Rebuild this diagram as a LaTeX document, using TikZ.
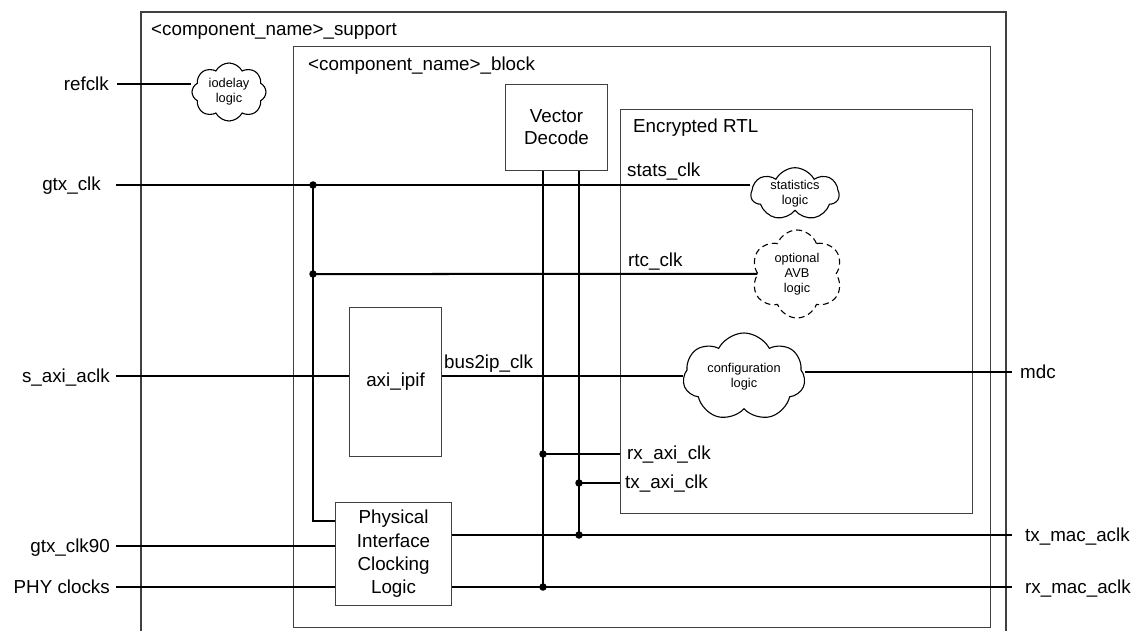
\documentclass[tikz,border=0pt]{standalone}
\usepackage{fontspec}
\setmainfont{Liberation Sans}
\usetikzlibrary{shapes.symbols}
\begin{document}
\begin{tikzpicture}[x=1pt,y=-1pt,
  box/.style={draw=black!75, line width=1.1pt, inner sep=0pt},
  wire/.style={draw=black, line width=2pt},
  lbl/.style={font=\fontsize{18.8}{23}\selectfont, inner sep=0pt},
  boxlbl/.style={font=\fontsize{18.8}{22}\selectfont, align=center},
  cloudnode/.style={cloud, draw, line width=1.1pt, cloud puffs=7, cloud puff arc=125, cloud ignores aspect, inner sep=0pt, align=center, font=\fontsize{12.8}{15}\selectfont},
  dot/.style={circle, fill=black, inner sep=0pt, minimum size=7.5pt}
]
\useasboundingbox (0,0) rectangle (1138,631);
\fill[white] (0,0) rectangle (1138,631);

% outer support region
\draw[box] (141,631) -- (141,12) -- (1006,12) -- (1006,631);
\node[lbl, anchor=base west] (suplbl) at (151,36) {<component\_name>\_support};

% boxes
\node[box, anchor=north west, minimum width=697pt, minimum height=581pt] (block) at (293,46) {};
\node[lbl, anchor=base west] (blocklbl) at (308,70.5) {<component\_name>\_block};
\node[box, boxlbl, anchor=north west, minimum width=102pt, minimum height=86pt] (vd) at (505,84) {Vector\\Decode};
\node[box, anchor=north west, minimum width=352pt, minimum height=404pt] (rtl) at (620,109) {};
\node[lbl, anchor=base west] (rtllbl) at (633,133) {Encrypted RTL};
\node[box, boxlbl, anchor=north west, minimum width=92pt, minimum height=149pt] (axi) at (349,307) {axi\_ipif};
\node[box, font=\fontsize{18.8}{23.3}\selectfont, align=center, anchor=north west, minimum width=116pt, minimum height=103pt] (picl) at (335,502) {Physical\\Interface\\Clocking\\Logic};

% clouds
\node[cloudnode, cloud puffs=8, minimum width=74pt, minimum height=58pt] (io) at (229,92) {iodelay\\logic};
\node[cloudnode, minimum width=88pt, minimum height=46pt] (stat) at (795,194) {statistics\\logic};
\node[cloudnode, cloud puffs=6, cloud puff arc=140, dash pattern=on 6pt off 4pt, minimum width=92pt, minimum height=88pt] (avb) at (797,274) {optional\\AVB\\logic};
\node[cloudnode, minimum width=122pt, minimum height=88pt] (cfg) at (744,377) {configuration\\logic};

% endpoints
\coordinate (refin) at (117,84);
\coordinate (gtxin) at (116,185);
\coordinate (saxiin) at (116,376);
\coordinate (gtx90in) at (116,546);
\coordinate (phyin) at (116,587);
\coordinate (mdcout) at (1012,372);
\coordinate (txout) at (1012,535);
\coordinate (rxout) at (1012,587);
\coordinate (gtxbend) at (313,521);

% junctions
\node[dot] (j1) at (313,185) {};
\node[dot] (j2) at (313,274) {};
\node[dot] (j3) at (543,454) {};
\node[dot] (j4) at (579,483) {};
\node[dot] (j5) at (579,535) {};
\node[dot] (j6) at (543,587) {};

% wires
\draw[wire] (refin) -- (io.west |- refin);
\draw[wire] (gtxin) -- (stat.west |- gtxin);
\draw[wire] (j1.center) -- (gtxbend) -- (picl.west |- gtxbend);
\draw[wire] (j2.center) -- (avb.west);
\draw[wire] (saxiin) -- (axi.west |- saxiin);
\draw[wire] (axi.east |- saxiin) -- (cfg.west |- saxiin);
\draw[wire] (cfg.east |- mdcout) -- (mdcout);
\draw[wire] (vd.south -| j6) -- (j6.center);
\draw[wire] (vd.south -| j5) -- (j5.center);
\draw[wire] (j3.center) -- (rtl.west |- j3);
\draw[wire] (j4.center) -- (rtl.west |- j4);
\draw[wire] (gtx90in) -- (picl.west |- gtx90in);
\draw[wire] (phyin) -- (picl.west |- phyin);
\draw[wire] (picl.east |- txout) -- (txout);
\draw[wire] (picl.east |- rxout) -- (rxout);

% labels
\node[lbl, anchor=base east] (refclk) at (109,91) {refclk};
\node[lbl, anchor=base east] (gtxclk) at (101,191) {gtx\_clk};
\node[lbl, anchor=base east] (saxi) at (110,382) {s\_axi\_aclk};
\node[lbl, anchor=base east] (gtx90) at (110,552) {gtx\_clk90};
\node[lbl, anchor=base east] (phy) at (110,593) {PHY clocks};
\node[lbl, anchor=base west] (mdc) at (1020,378) {mdc};
\node[lbl, anchor=base west] (txmac) at (1025,541) {tx\_mac\_aclk};
\node[lbl, anchor=base west] (rxmac) at (1025,593) {rx\_mac\_aclk};
\node[lbl, anchor=base west] (stats) at (627,177) {stats\_clk};
\node[lbl, anchor=base west] (rtc) at (628,266) {rtc\_clk};
\node[lbl, anchor=base west] (bus) at (444,368) {bus2ip\_clk};
\node[lbl, anchor=base west] (rxaxi) at (627,459) {rx\_axi\_clk};
\node[lbl, anchor=base west] (txaxi) at (625,488) {tx\_axi\_clk};
\end{tikzpicture}
\end{document}
